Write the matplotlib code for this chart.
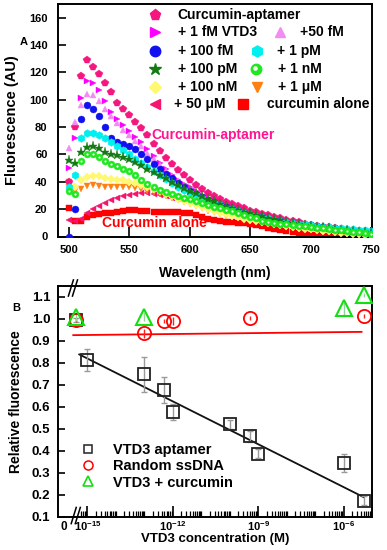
import numpy as np
import matplotlib
matplotlib.use('Agg')
import matplotlib.pyplot as plt
from matplotlib.lines import Line2D
from matplotlib.ticker import FixedLocator, NullFormatter

plt.rcParams['font.family'] = ['Liberation Sans', 'DejaVu Sans']
plt.rcParams['font.weight'] = 'bold'
plt.rcParams['axes.labelweight'] = 'bold'
plt.rcParams['mathtext.fontset'] = 'custom'
plt.rcParams['mathtext.rm'] = 'Liberation Sans:bold'
plt.rcParams['mathtext.bf'] = 'Liberation Sans:bold'
plt.rcParams['mathtext.default'] = 'rm'

# ---------------- Panel A data ----------------
wavelength = [500, 505, 510, 515, 520, 525, 530, 535, 540, 545, 550, 555, 560, 565, 570,
              575, 580, 585, 590, 595, 600, 605, 610, 615, 620, 625, 630, 635, 640, 645,
              650, 655, 660, 665, 670, 675, 680, 685, 690, 695, 700, 705, 710, 715, 720,
              725, 730, 735, 740, 745, 750]

curcumin_aptamer = [40, 80, 117, 129, 124, 118.5, 112, 105.5, 97.5, 93, 88.5, 84, 79.5, 74, 68,
                    62.5, 57.5, 53, 48.5, 45, 41.5, 38, 35, 32, 29.5, 27.5, 25.5, 23.5, 22, 20.5,
                    19, 17.8, 16.8, 15.5, 14.5, 13.3, 12.3, 11.3, 10.3, 9.5, 8.7, 8, 7.3, 6.6, 6,
                    5.4, 4.8, 4.3, 3.8, 3.3, 3]
vtd3_1fM = [50, 72, 101, 114, 112, 107, 99, 91, 86, 81.5, 77, 73, 69, 64, 59,
            54, 49.5, 45, 41.5, 38.5, 36, 33, 30.5, 28, 26, 24, 22, 20.3, 18.8, 17.3,
            16, 14.8, 13.7, 12.7, 11.8, 11, 10.2, 9.5, 8.8, 8.2, 7.6, 7, 6.5, 6, 5.5,
            5, 4.5, 4, 3.6, 3.2, 2.8]
vtd3_50fM = [65, 84, 96, 104.5, 103.5, 99, 93.5, 88, 83, 78, 74, 70, 66, 61, 56.5,
             52, 48, 44, 40.5, 37.5, 35, 32.5, 30, 27.8, 25.8, 24, 22.2, 20.6, 19.1, 17.7,
             16.4, 15.2, 14.1, 13.1, 12.2, 11.4, 10.6, 9.9, 9.2, 8.6, 8, 7.4, 6.8, 6.3, 5.8,
             5.3, 4.8, 4.3, 3.9, 3.5, 3.1]
vtd3_100fM = [0, 20, 86, 96, 93, 88, 80, 72, 69, 67.5, 66, 64, 60.5, 57, 53,
              49.5, 46, 42.5, 39, 36, 33.5, 31, 29, 27, 25, 23.3, 21.7, 20.2, 18.8, 17.5,
              16.3, 15.2, 14.2, 13.2, 12.3, 11.5, 10.7, 10, 9.3, 8.7, 8.1, 7.5, 7, 6.5, 6,
              5.5, 5, 4.5, 4, 3.5, 3]
vtd3_1pM = [36, 45, 72, 75.5, 75.5, 74, 72, 69, 66, 63, 60, 57, 54, 51, 48,
            45, 42, 39, 36.5, 34, 32, 30, 28, 26, 24.3, 22.7, 21.2, 19.8, 18.5, 17.3,
            16.2, 15.2, 14.2, 13.3, 12.4, 11.6, 10.8, 10.1, 9.4, 8.8, 8.2, 7.7, 7.2, 6.8, 6.4,
            6, 5.6, 5.2, 4.8, 4.4, 4]
vtd3_100pM = [56, 54, 62, 65.5, 66.5, 64.5, 62, 60.5, 59.3, 58, 56.5, 54.5, 52, 49.5, 47,
              45, 42.5, 40, 37.5, 35.5, 33.5, 31.5, 29.5, 27.5, 25.7, 24, 22.4, 20.9, 19.5, 18.2,
              17, 15.8, 14.7, 13.6, 12.6, 11.7, 10.8, 10, 9.2, 8.5, 7.8, 7.2, 6.6, 6, 5.5,
              5, 4.5, 4, 3.6, 3.2, 2.8]
vtd3_1nM = [33, 31, 55, 60.5, 60, 58, 55, 53, 51.5, 49.5, 48, 45, 41.5, 38.5, 36,
            34, 32.5, 31, 29.5, 28.5, 27.5, 26, 24.5, 23, 21.8, 20.7, 19.6, 18.5, 17.4, 15.8,
            14.5, 13.2, 11.5, 10.4, 9.9, 9.4, 8.9, 8.5, 8, 7.5, 7, 6.5, 6, 5.5, 5,
            4.5, 4, 3.5, 3, 2.5, 2]
vtd3_100nM = [38, 36, 41, 43.5, 44.5, 44, 43, 42, 41.5, 41, 40, 39, 37.5, 36, 34.5,
              33, 31, 29.5, 27.5, 26, 24.5, 23, 21.5, 20, 18.7, 17.4, 16.2, 15, 14, 13,
              12, 11.2, 10.4, 9.6, 8.9, 8.2, 7.5, 6.9, 6.3, 5.7, 5.2, 4.7, 4.2, 3.7, 3.3,
              2.9, 2.5, 2.1, 1.7, 1.3, 1]
vtd3_1uM = [40, 33, 35, 37, 37.5, 37, 36.5, 36.5, 36.5, 36, 36, 35.5, 34.5, 33.5, 32.5,
            31, 29.5, 28, 26.5, 25, 23.5, 22, 20.5, 19, 17.7, 16.5, 15.3, 14.2, 13.2, 12.2,
            11.3, 10.5, 9.7, 9, 8.3, 7.6, 7, 6.4, 5.8, 5.3, 4.8, 4.3, 3.8, 3.3, 2.9,
            2.5, 2.1, 1.7, 1.3, 1, 0.8]
vtd3_50uM = [12, 11, 13, 17, 20, 22.5, 24.5, 26.5, 28.5, 29.5, 30.5, 31, 31.5, 31.5, 31,
             30.5, 29.5, 28.5, 27.5, 26.5, 25, 23.5, 22, 20.7, 19.5, 18.3, 17.2, 16.2, 15.2, 14.3,
             13.5, 12.7, 12, 11.3, 10.7, 10, 9.4, 8.8, 8.2, 7.7, 7.2, 6.7, 6.2, 5.7, 5.2,
             4.7, 4.2, 3.8, 3.4, 3, 2.6]
curcumin_alone = [21, 11, 11, 14, 15.5, 16.5, 17, 17.5, 18, 18.5, 19.5, 19.5, 19, 18.5, 18,
                  18, 17.8, 17.8, 17.8, 17.5, 17, 16, 14.5, 13, 12, 11.3, 10.8, 10.5, 10.2, 9.8,
                  9.5, 8.5, 7.5, 6.5, 5.5, 4.7, 4, 3.3, 2.6, 2, 1.4, 0.9, 0.5, 0.2, 0,
                  0, 0, 0, np.nan, np.nan, np.nan]

series_labels = ['Curcumin-aptamer', '+ 1 fM VTD3', '+50 fM', '+ 100 fM', '+ 1 pM',
                 '+ 100 pM', '+ 1 nM', '+ 100 nM', '+ 1 \u03bcM', '+ 50 \u03bcM', 'curcumin alone']

# ---------------- Panel B data ----------------
apt_conc = [0, 1e-15, 1e-13, 5e-13, 1e-12, 1e-10, 5e-10, 1e-9, 1e-6, 5e-6]
apt_rel = [0.995, 0.811, 0.747, 0.675, 0.576, 0.520, 0.465, 0.386, 0.345, 0.173]
apt_err = [0.01, 0.05, 0.08, 0.06, 0.035, 0.02, 0.025, 0.02, 0.04, 0.02]

rnd_conc = [0, 1e-13, 5e-13, 1e-12, 5e-10, 5e-6]
rnd_rel = [0.993, 0.933, 0.989, 0.989, 1.004, 1.012]
rnd_err = [0.01, 0.02, 0.01, 0.02, 0.01, 0.01]

cur_conc = [0, 1e-13, 1e-6, 5e-6]
cur_rel = [1.009, 1.009, 1.047, 1.108]
cur_err = [0.02, 0.02, 0.03, 0.01]

apt_fit = {'slope': -0.065, 'intercept': -0.156, 'range': [5.2e-16, 5e-6]}
rnd_fit = {'slope': 0.00148, 'intercept': 0.948, 'range': [3.2e-16, 4.2e-6]}

legend_B = ['VTD3 aptamer', 'Random ssDNA', 'VTD3 + curcumin']

# ---------------- styles ----------------
PINK = '#F5167F'
styles = [
    dict(marker='p', color=PINK, ms=5.5),
    dict(marker='>', color='#FF00FF', ms=5),
    dict(marker='^', color='#F28CF2', ms=5),
    dict(marker='o', color='#1010F0', ms=5),
    dict(marker='h', color='#00F0F0', ms=5.5),
    dict(marker='*', color='#147A14', ms=6.5),
    dict(marker='o', color='#1FE81F', ms=5),
    dict(marker='D', color='#FFF870', ms=4.2),
    dict(marker='v', color='#FF8010', ms=5),
    dict(marker='<', color='#F5146E', ms=5),
    dict(marker='s', color='#FF0000', ms=5),
]
leg_ms = [8, 7.5, 7.5, 7.5, 8, 9, 7.5, 6.5, 7.5, 7.5, 6.5]
series = [curcumin_aptamer, vtd3_1fM, vtd3_50fM, vtd3_100fM, vtd3_1pM, vtd3_100pM,
          vtd3_1nM, vtd3_100nM, vtd3_1uM, vtd3_50uM, curcumin_alone]

fig = plt.figure(figsize=(3.87, 5.5), dpi=100)
axA = fig.add_axes([0.1499, 0.570, 0.8121, 0.4227])
axB = fig.add_axes([0.1499, 0.0606, 0.8121, 0.4200])

order = [10, 9, 8, 7, 0, 1, 2, 3, 4, 5, 6]
for i in order:
    st = styles[i]
    axA.plot(wavelength, series[i], ls='none', marker=st['marker'], ms=st['ms'],
             mfc=st['color'], mec=st['color'], mew=0.3, zorder=2 + order.index(i))
    if i == 6:
        axA.plot(wavelength, series[i], ls='none', marker='o', ms=1.6, mfc='white',
                 mec='white', mew=0, zorder=2 + order.index(i) + 0.5)

axA.set_xlim(491, 751)
axA.set_ylim(0, 170)
axA.set_xticks([500, 550, 600, 650, 700, 750])
axA.set_yticks([0, 20, 40, 60, 80, 100, 120, 140, 160])
axA.tick_params(axis='x', direction='in', length=7, width=1.2, pad=6.3, labelsize=8)
axA.tick_params(axis='y', direction='in', length=6, width=1.2, pad=7.5, labelsize=8)
for sp in axA.spines.values():
    sp.set_linewidth(1.4)
axA.set_xlabel('Wavelength (nm)', fontsize=10, labelpad=8)
axA.set_ylabel('Fluorescence (AU)', fontsize=10.5, labelpad=7)

axA.text(568.5, 74.5, 'Curcumin-aptamer', color='#FF1493', fontsize=10, va='center', ha='left', zorder=20)
axA.text(527.2, 10.0, 'Curcumin alone', color='#FF0000', fontsize=10, va='center', ha='left', zorder=20)

rows_y = [0.9527, 0.8783, 0.7978, 0.7191, 0.6443, 0.5686]
leg_items = [
    (0, 0, 0.3086, 0.3808),
    (1, 1, 0.3086, 0.3818), (2, 1, 0.7063, 0.7700),
    (3, 2, 0.3086, 0.3818), (4, 2, 0.6322, 0.6958),
    (5, 3, 0.3086, 0.3818), (6, 3, 0.6300, 0.7000),
    (7, 4, 0.3086, 0.3818), (8, 4, 0.6322, 0.7000),
    (9, 5, 0.3086, 0.3691), (10, 5, 0.5886, 0.6640),
]
for idx, row, mx, tx in leg_items:
    st = styles[idx]
    y = rows_y[row]
    axA.plot([mx], [y], ls='none', marker=st['marker'], ms=leg_ms[idx],
             mfc=st['color'], mec=st['color'], transform=axA.transAxes, clip_on=False, zorder=30)
    if idx == 6:
        axA.plot([mx - 0.004], [y + 0.006], ls='none', marker='o', ms=2.3, mfc='white',
                 mec='white', transform=axA.transAxes, clip_on=False, zorder=31)
    axA.text(tx, y, series_labels[idx], transform=axA.transAxes, fontsize=10,
             va='center', ha='left', zorder=30)

# ---------------- Panel B ----------------
ZERO_POS = 10 ** -15.4


def xpos(c):
    c = np.asarray(c, dtype=float)
    return np.where(c == 0, ZERO_POS, c)


axB.set_xscale('log')
axB.set_xlim(10 ** -16.03, 1e-5)
axB.set_ylim(0.1, 1.15)

for fit, col in [(apt_fit, '#111111'), (rnd_fit, '#FF0000')]:
    xr = np.array(fit['range'])
    axB.plot(xr, fit['intercept'] + fit['slope'] * np.log10(xr), color=col, lw=1.3, zorder=2)

axB.errorbar(xpos(apt_conc), apt_rel, yerr=apt_err, fmt='none', ecolor='#9a9a9a',
             elinewidth=1.0, capsize=2.5, capthick=1.0, zorder=3)
axB.errorbar(xpos(rnd_conc), rnd_rel, yerr=rnd_err, fmt='none', ecolor='#FF2020',
             elinewidth=1.0, capsize=0, zorder=3)
axB.errorbar(xpos(cur_conc), cur_rel, yerr=cur_err, fmt='none', ecolor='#9ad09a',
             elinewidth=1.0, capsize=0, zorder=3)

axB.plot(xpos(apt_conc), apt_rel, ls='none', marker='s', ms=9, mfc='none', mec='#222222',
         mew=1.3, zorder=4)
axB.plot(xpos(rnd_conc), rnd_rel, ls='none', marker='o', ms=9.5, mfc='none', mec='#FF0000',
         mew=1.3, zorder=5)
axB.plot(xpos(cur_conc), cur_rel, ls='none', marker='^', ms=11, mfc='none', mec='#10E010',
         mew=1.5, zorder=6)

major = [1e-15, 1e-12, 1e-9, 1e-6]
axB.xaxis.set_major_locator(FixedLocator(major))
axB.set_xticklabels([r'$10^{-15}$', r'$10^{-12}$', r'$10^{-9}$', r'$10^{-6}$'])
minor = []
for e in range(-16, -5):
    for k in range(1, 10):
        v = k * 10.0 ** e
        if v >= 6e-16 and v <= 1e-5 and v not in major:
            minor.append(v)
axB.xaxis.set_minor_locator(FixedLocator(minor))
axB.xaxis.set_minor_formatter(NullFormatter())
axB.set_yticks([0.1, 0.2, 0.3, 0.4, 0.5, 0.6, 0.7, 0.8, 0.9, 1.0, 1.1])
axB.set_yticklabels(['0.1', '0.2', '0.3', '0.4', '0.5', '0.6', '0.7', '0.8', '0.9', '1.0', '1.1'])
axB.tick_params(axis='x', which='major', direction='in', length=8, width=1.2, pad=1.5, labelsize=8)
axB.tick_params(axis='x', which='minor', direction='in', length=4.5, width=0.9)
axB.tick_params(axis='y', direction='in', length=5, width=1.2, pad=5.5, labelsize=9.5)
for sp in axB.spines.values():
    sp.set_linewidth(1.4)

axB.text(10 ** -15.84, -0.045, '0', transform=axB.get_xaxis_transform(), fontsize=8.5,
         ha='center', va='center')

for dx in (0.0, 0.013):
    axB.plot([0.042 + dx, 0.058 + dx], [-0.03, 0.04], color='black', lw=1.1,
             transform=axB.transAxes, clip_on=False, zorder=10)
    axB.plot([0.033 + dx, 0.049 + dx], [0.955, 1.025], color='black', lw=1.1,
             transform=axB.transAxes, clip_on=False, zorder=10)

axB.set_xlabel('VTD3 concentration (M)', fontsize=9.5, labelpad=0)
axB.set_ylabel('Relative fluorescence', fontsize=10, labelpad=6)

handles = [
    Line2D([], [], ls='none', marker='s', ms=6, mfc='none', mec='#222222', mew=1.1),
    Line2D([], [], ls='none', marker='o', ms=6.5, mfc='none', mec='#FF0000', mew=1.1),
    Line2D([], [], ls='none', marker='^', ms=7, mfc='none', mec='#10E010', mew=1.2),
]
axB.legend(handles, legend_B, loc='upper left', bbox_to_anchor=(0.072, 0.318), frameon=False,
           fontsize=10.5, handlelength=1.0, handletextpad=1.2, labelspacing=0.15,
           borderpad=0, borderaxespad=0)

fig.text(24 / 387, 1 - 41.7 / 550, 'A', fontsize=8, ha='center', va='center')
fig.text(16.7 / 387, 1 - 308 / 550, 'B', fontsize=8, ha='center', va='center')

fig.savefig('out.png', dpi=100)
